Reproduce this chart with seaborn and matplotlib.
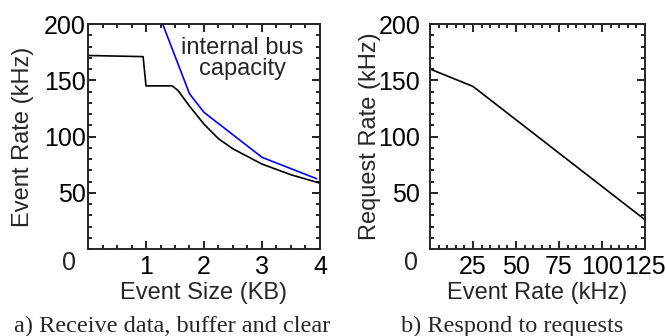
import numpy as np
import pandas as pd
import seaborn as sns
import matplotlib.pyplot as plt

# a) receive data, buffer and clear
size_kb = [0.0, 0.95, 1.0, 1.45, 1.55, 1.75, 2.0, 2.25, 2.5, 3.0, 3.5, 4.0]
event_rate = [172, 171, 145, 145, 141, 127, 111, 98, 89, 75.5, 66, 58.5]

bus_size = [1.25, 1.75, 2.0, 3.0, 3.94]
bus_rate = [205, 138, 121.5, 81.5, 62.5]

# b) respond to requests
evt_rate_khz = [0, 25, 125]
req_rate = [160, 144.5, 26]

sns.set_style("ticks")
plt.rcParams['font.family'] = ['Liberation Sans', 'DejaVu Sans']

W, H = 666, 336
fig = plt.figure(figsize=(W / 100, H / 100), dpi=100)
ax1 = fig.add_axes([88 / W, 1 - 249 / H, 232 / W, 225 / H])
ax2 = fig.add_axes([430 / W, 1 - 249 / H, 215 / W, 225 / H])

df_a = pd.DataFrame({"size": size_kb, "rate": event_rate})
df_bus = pd.DataFrame({"size": bus_size, "rate": bus_rate})
df_b = pd.DataFrame({"evt": evt_rate_khz, "req": req_rate})

sns.lineplot(data=df_a, x="size", y="rate", ax=ax1, color="black", lw=1.2)
sns.lineplot(data=df_bus, x="size", y="rate", ax=ax1, color="#0000ff", lw=1.2)
sns.lineplot(data=df_b, x="evt", y="req", ax=ax2, color="black", lw=1.2)

ax1.text(2.66, 169, "internal bus\ncapacity", fontsize=17, ha="center", va="center",
         linespacing=0.95)

def style(ax, xlim, xticks, xminor, ypad):
    ax.set_xlim(*xlim)
    ax.set_ylim(0, 200)
    ax.set_xticks(xticks)
    ax.set_xticks(xminor, minor=True)
    ax.set_yticks([50, 100, 150, 200])
    ax.set_yticks(np.arange(0, 201, 10), minor=True)
    for s in ax.spines.values():
        s.set_visible(True)
        s.set_linewidth(1.4)
    ax.tick_params(which="both", direction="in", top=True, right=True,
                   width=1.2, labelsize=18, colors="black")
    ax.tick_params(which="major", length=6)
    ax.tick_params(which="minor", length=3)
    ax.tick_params(axis="x", pad=4.5)
    ax.tick_params(axis="y", pad=ypad)
    ax.annotate("0", xy=(0, 0), xycoords="axes fraction", xytext=(-12, -2),
                textcoords="offset pixels", ha="right", va="top", fontsize=18)

style(ax1, (0, 4), [1, 2, 3, 4], np.arange(0, 4.01, 0.25), 1.5)
style(ax2, (0, 125), [25, 50, 75, 100, 125], np.arange(0, 126, 5), 7)

ax1.set_xlabel("Event Size (KB)", fontsize=17, labelpad=2)
ax1.set_ylabel("Event Rate (kHz)", fontsize=17, labelpad=7)
ax2.set_xlabel("Event Rate (kHz)", fontsize=17, labelpad=2)
ax2.set_ylabel("Request Rate (kHz)", fontsize=17, labelpad=-2)

fig.text(172 / W, 1 - 326 / H, "a) Receive data, buffer and clear",
         family="Liberation Serif", fontsize=17.5, ha="center", va="center")
fig.text(512 / W, 1 - 326 / H, "b) Respond to requests",
         family="Liberation Serif", fontsize=17.5, ha="center", va="center")

fig.savefig("out.png", dpi=100)
